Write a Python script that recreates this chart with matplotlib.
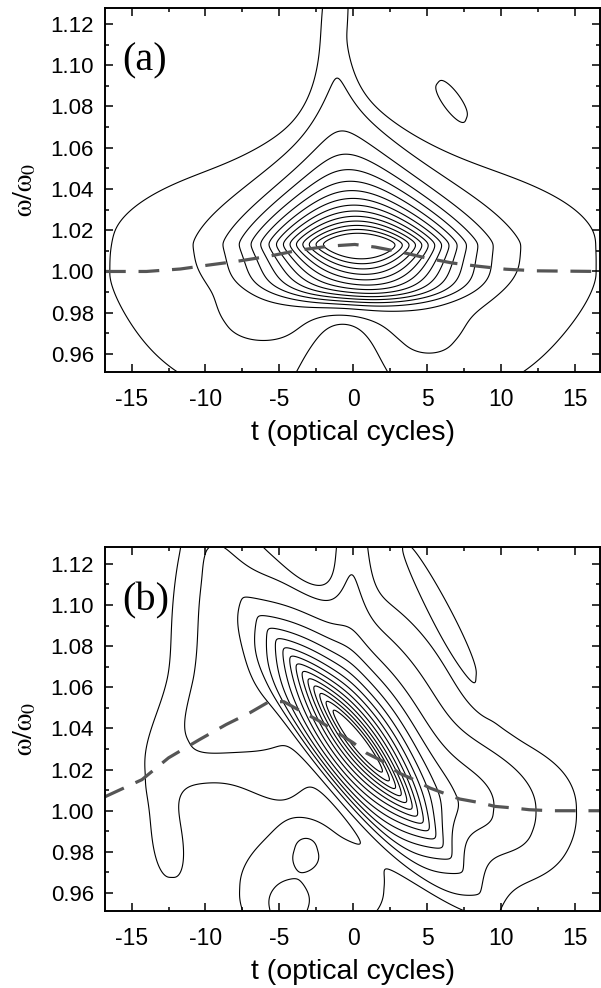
import numpy as np
import matplotlib
matplotlib.use("Agg")
import matplotlib.pyplot as plt

plt.rcParams['font.family'] = ['Liberation Sans', 'DejaVu Sans']
plt.rcParams['mathtext.fontset'] = 'stix'
plt.rcParams['axes.unicode_minus'] = False

# contour levels (outermost level is a low one)
levels = [0.45] + list(range(1, 15))

# dashed instantaneous-frequency curves
dash_a_t = [-16.8, -14.0, -11.7, -9.9, -7.8, -5.7, -3.7, -1.6, 0.1, 1.5, 3.3, 4.9, 6.7, 8.5, 10.3, 12.4, 16.7]
dash_a_w = [1.000, 1.000, 1.0012, 1.003, 1.005, 1.0074, 1.0103, 1.0123, 1.0131, 1.0118, 1.0093,
            1.0066, 1.0041, 1.0025, 1.0011, 1.0003, 1.000]
dash_b_t = [-16.8, -14.3, -12.5, -10.4, -8.6, -7.0, -5.7, -4.7, -3.7, -2.4, -1.3, 0.0, 0.9, 2.0,
            3.1, 4.1, 5.2, 6.4, 7.2, 8.5, 9.6, 10.9, 11.9, 13.4, 16.7]
dash_b_w = [1.0068, 1.0151, 1.0257, 1.0346, 1.0419, 1.0476, 1.0530, 1.0530, 1.0490, 1.0440, 1.0390,
            1.0330, 1.0280, 1.0240, 1.0183, 1.0151, 1.0110, 1.0078, 1.0057, 1.0040, 1.0021, 1.0013,
            1.0005, 1.0000, 1.0000]

# distribution components, panel (a):
# main peak, pedestal, spike, left lobe, right lobe, dip, island, skirt
a_t0 = [0.4, 0.0, -1.2, -6.5, 5.3, -0.7, 6.55, -0.5]
a_w0 = [1.013, 1.0, 1.13, 0.975, 0.966, 0.955, 1.084, 0.99]
a_ang = [0, 0, 0, 0, 0, 0, -42, 0]
a_shear = [-0.17, 0, 0.08, 0, 0, 0, 0, 0]
a_a = [5.75, 30.6, 1.8, 2.5, 2.5, 2.2, 1.4, 10.0]
a_pt = [2, 2, 2, 2, 2, 2, 2, 4]
a_lu = [2.3, 7.8, 20, 1.5, 1.5, 3.0, 0.4, 3.0]
a_pu = [1, 2.8, 2, 2, 2, 2, 2, 2]
a_ld = [2.8, 15.0, 6.0, 1.0, 1.0, 3.0, 0.4, 2.5]
a_pd = [1, 1.52, 2, 2, 2, 2, 2, 2]
a_taper = [0.025, 0, 0, 0, 0, 0, 0, 0]
a_cut = [-2.79, None, None, None, None, None, None, None]
a_curl = [0.4, 0, 0, 0, 0, 0, 0, 0]
a_amp = [15.5, 0.6, 0.55, 0.28, 0.35, -1.0, 0.6, 0.7]

# panel (b): main peak, right lobe, left ridge, upper-left, spike, strip, bottom lobe,
# two islands, notch, upper-left shoulder, finger (negative), right shoulder
b_t0 = [0.4, 11.5, -10.5, -9.5, -0.1, 5.6, -2.7, -3.2, -4.6, -12.6, -6.5, -3.3, 8.0]
b_w0 = [1.033, 1.0, 1.037, 1.125, 1.13, 1.101, 0.962, 0.981, 0.952, 0.985, 1.065, 1.125, 1.005]
b_ang = [-42, 0, 29, 0, 0, -53, 0, 0, 0, -80, 0, 0, -20]
b_shear = [0, 0, 0, 0, 0, 0, 0, 0, 0, 0, -0.2, -0.44, 0]
b_a = [6.3, 5.0, 5.0, 2.5, 1.2, 4.2, 6.5, 1.2, 1.8, 2.5, 4.8, 1.6, 3.5]
b_pt = [2, 2, 2, 2, 2, 2, 2, 2, 2, 2, 2, 2, 2]
b_lu = [1.85, 3.3, 2.5, 5.0, 20, 0.45, 3.0, 0.8, 1.4, 1.2, 4.5, 5.0, 2.5]
b_pu = [1, 2, 2, 2, 2, 2, 2, 2, 2, 2, 2, 2, 2]
b_ld = [2.0, 4.0, 2.0, 4.0, 5.0, 0.45, 3.0, 0.8, 1.4, 1.2, 4.8, 2.0, 1.5]
b_pd = [1, 2, 2, 2, 2, 2, 2, 2, 2, 2, 2, 2, 2]
b_taper = [0, 0, 0, 0, 0, 0, 0, 0, 0, 0, 0, 0, 0]
b_cut = [-2.6, None, None, None, None, None, None, None, None, None, None, None, None]
b_curl = [0.4, 0, 0, 0, 0, 0, 0, 0, 0, 0, 0, 0, 0]
b_amp = [15.5, 0.72, 0.7, 0.7, 0.7, 0.75, 0.75, 0.6, 0.6, 0.6, 1.5, -0.6, 1.3]

t_lim = (-16.8, 16.7)
w_lim = (0.9514, 1.128)


def blob(T, W, t0, w0, ang, shear, a, pt, lu, pu, ld, pd, taper, cut, curl, amp):
    x = T - t0
    y = (W - w0) * 100.0
    c, s = np.cos(np.radians(ang)), np.sin(np.radians(ang))
    xr = x * c + y * s
    yr = -x * s + y * c
    xr = xr - shear * yr
    aeff = a * np.exp(-taper * yr * np.abs(yr))
    ys = np.sqrt(yr ** 2 + 0.04) - 0.2
    vy = np.where(yr > 0, (ys / lu) ** pu, (ys / ld) ** pd)
    f = amp * np.exp(-(np.abs(xr) / aeff) ** pt - vy)
    if cut is not None:
        c_eff = cut + curl * (xr / aeff) ** 2
        f = f / (1 + np.exp(-(yr - c_eff) / 0.277))
    return f


def field(T, W, comps):
    Z = np.zeros_like(T)
    for p in zip(*comps):
        Z += blob(T, W, *p)
    return Z


tt = np.linspace(t_lim[0], t_lim[1], 700)
ww = np.linspace(w_lim[0], w_lim[1], 600)
T, W = np.meshgrid(tt, ww)

Za = field(T, W, [a_t0, a_w0, a_ang, a_shear, a_a, a_pt, a_lu, a_pu, a_ld, a_pd, a_taper, a_cut, a_curl, a_amp])
Zb = field(T, W, [b_t0, b_w0, b_ang, b_shear, b_a, b_pt, b_lu, b_pu, b_ld, b_pd, b_taper, b_cut, b_curl, b_amp])

fig = plt.figure(figsize=(6.01, 9.88), dpi=100)
ax_a = fig.add_axes([0.1747, 0.6238, 0.8238, 0.3686])
ax_b = fig.add_axes([0.1747, 0.0782, 0.8238, 0.3678])

for ax, Z, dt, dw, tag in [(ax_a, Za, dash_a_t, dash_a_w, '(a)'), (ax_b, Zb, dash_b_t, dash_b_w, '(b)')]:
    ax.contour(T, W, Z, levels=levels, colors='k', linewidths=0.8)
    ax.plot(dt, dw, color='#555555', lw=2.3, dashes=(6.5, 4.0), solid_capstyle='butt')
    ax.set_xlim(*t_lim)
    ax.set_ylim(*w_lim)
    ax.set_xticks([-15, -10, -5, 0, 5, 10, 15])
    ax.set_xticks(np.arange(-15, 16, 2.5), minor=True)
    ax.set_yticks([0.96, 0.98, 1.00, 1.02, 1.04, 1.06, 1.08, 1.10, 1.12])
    ax.set_yticks(np.arange(0.96, 1.125, 0.01), minor=True)
    ax.set_yticklabels(['%.2f' % v for v in ax.get_yticks()])
    ax.tick_params(which='both', direction='in', top=True, right=True, width=1.1)
    ax.tick_params(which='major', length=5.8)
    ax.tick_params(which='minor', length=3)
    ax.tick_params(axis='x', labelsize=16.5, pad=12)
    ax.tick_params(axis='y', labelsize=16, pad=8)
    for sp in ax.spines.values():
        sp.set_linewidth(1.4)
    ax.set_xlabel('t (optical cycles)', fontsize=20.5, labelpad=6)
    ax.set_ylabel(r'$\mathrm{\omega/\omega_0}$', fontsize=20, labelpad=9)
    ax.text(-15.6, 1.102, tag, fontsize=29, family='Liberation Serif', va='center', ha='left')

fig.savefig('out.png', dpi=100)
